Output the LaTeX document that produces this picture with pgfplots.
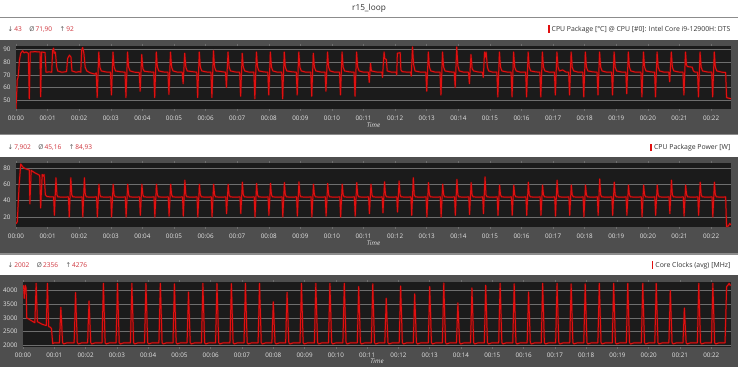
\documentclass[border=0pt]{standalone}
\usepackage{pgfplots}
\pgfplotsset{compat=1.18}
\usepackage{pgfplotstable}
\usepackage{fontspec}
\setmainfont{Open Sans}
\newfontfamily\symf{DejaVu Sans}
\definecolor{band}{HTML}{4E4E4E}
\definecolor{plotbg}{HTML}{1B1B1B}
\definecolor{gridc}{HTML}{6E6E6E}
\definecolor{linec}{HTML}{E01010}
\definecolor{glowc}{HTML}{A00000}
\definecolor{ticktxt}{HTML}{E4E4E4}
\definecolor{stat}{HTML}{D0343C}
\definecolor{hdrtxt}{HTML}{333333}
\definecolor{symc}{HTML}{555555}
\definecolor{sepc}{HTML}{8C8C8C}

\pgfplotstableread[row sep=\\]{t v\\
0.00 43\\ 0.04 66\\ 0.07 68.5\\ 0.11 81.6\\ 0.15 87\\ 0.21 89\\ 0.25 87.4\\ 0.32 88\\ 0.39 87\\ 0.42 51\\ 0.45 88\\ 0.60 88.3\\ 0.76 88\\ 0.78 52.6\\ 0.81 88\\ 0.92 87.6\\ 0.95 72\\ 1.05 72.3\\ 1.13 72\\ 1.16 89.5\\ 1.19 91\\ 1.21 87\\ 1.245 88\\ 1.29 76\\ 1.32 73\\ 1.45 72\\ 1.60 72.5\\ 1.635 83\\ 1.69 85.5\\ 1.74 84\\ 1.77 73\\ 1.90 72\\ 2.00 72.5\\ 2.05 72\\ 2.08 89.5\\ 2.11 91.5\\ 2.15 87\\ 2.19 76\\ 2.24 73\\ 2.35 71.5\\ 2.50 70.5\\
2.54 71.5\\ 2.57 52\\ 2.62 88\\ 2.655 76\\ 2.70 73\\ 2.85 72.2\\
2.99 72\\ 3.02 54\\ 3.07 88\\ 3.105 76\\ 3.15 73\\ 3.30 72.4\\
3.45 72\\ 3.48 52\\ 3.53 88\\ 3.565 76\\ 3.61 73\\ 3.76 72\\
3.90 71.8\\ 3.93 57\\ 3.98 86\\ 4.015 75\\ 4.06 72.8\\ 4.21 72.3\\
4.36 72\\ 4.39 52\\ 4.44 88\\ 4.475 76\\ 4.52 73\\ 4.67 72.2\\
4.81 72\\ 4.84 54.5\\ 4.89 88\\ 4.925 76\\ 4.97 73\\ 5.12 72\\
5.26 72\\ 5.29 63\\ 5.34 87\\ 5.375 76\\ 5.42 73\\ 5.57 72.5\\
5.72 72\\ 5.75 52\\ 5.80 88\\ 5.835 76\\ 5.88 73\\ 6.03 72.2\\
6.17 72\\ 6.20 52\\ 6.25 89\\ 6.285 76\\ 6.33 73\\ 6.48 72.6\\
6.63 72\\ 6.66 60\\ 6.71 88\\ 6.745 76\\ 6.79 73\\ 6.94 72.2\\
7.08 72\\ 7.11 53\\ 7.16 87\\ 7.195 76\\ 7.24 73\\ 7.39 72\\
7.53 72\\ 7.56 51\\ 7.61 88\\ 7.645 76\\ 7.69 73\\ 7.84 72.3\\
7.97 72\\ 8.00 54\\ 8.05 88\\ 8.085 76\\ 8.13 73\\ 8.28 72\\
8.41 72\\ 8.44 51\\ 8.49 88\\ 8.525 76\\ 8.57 73\\ 8.72 72.4\\
8.87 72\\ 8.90 54\\ 8.95 88\\ 8.985 76\\ 9.03 73\\ 9.18 72\\
9.33 72\\ 9.36 53\\ 9.41 87\\ 9.445 76\\ 9.49 73\\ 9.64 72.2\\
9.78 72\\ 9.81 57\\ 9.86 88\\ 9.895 76\\ 9.94 73\\ 10.09 72\\
10.24 72\\ 10.27 54\\ 10.32 88\\ 10.355 76\\ 10.40 73\\ 10.55 72.3\\
10.70 72\\ 10.73 53\\ 10.78 88\\ 10.815 76\\ 10.86 73\\ 11.01 72\\
11.15 72\\ 11.18 64\\ 11.22 79\\ 11.25 73\\ 11.40 72.2\\
11.58 72\\ 11.60 68\\ 11.63 80\\ 11.65 88\\ 11.67 83\\ 11.72 82\\ 11.75 73\\ 11.90 72\\
12.03 72\\ 12.05 70\\ 12.07 87\\ 12.16 87.5\\ 12.18 74\\ 12.22 72.5\\ 12.40 72\\
12.49 72\\ 12.51 69\\ 12.55 92\\ 12.585 78\\ 12.63 73\\ 12.78 72.2\\
12.97 72\\ 13.00 57\\ 13.05 88\\ 13.085 76\\ 13.13 73\\ 13.28 72\\
13.42 72\\ 13.45 54\\ 13.50 88\\ 13.535 76\\ 13.58 73\\ 13.73 72.3\\
13.87 72\\ 13.90 60\\ 13.95 92\\ 13.985 77\\ 14.03 73\\ 14.18 72\\
14.32 72\\ 14.35 63\\ 14.40 86\\ 14.435 75\\ 14.48 73\\ 14.63 72.2\\
14.76 72\\ 14.79 68\\ 14.83 88\\ 14.86 84\\ 14.88 88\\ 14.92 76\\ 14.96 73\\ 15.10 72\\
15.22 72\\ 15.25 52.5\\ 15.30 88\\ 15.335 76\\ 15.38 73\\ 15.53 72.2\\
15.67 72\\ 15.70 52.5\\ 15.75 88\\ 15.785 76\\ 15.83 73\\ 15.98 72\\
16.13 72\\ 16.16 52.5\\ 16.21 88\\ 16.245 76\\ 16.29 73\\ 16.44 72.3\\
16.58 72\\ 16.61 52.5\\ 16.66 88\\ 16.695 76\\ 16.74 73\\ 16.89 72\\
17.04 72\\ 17.07 54\\ 17.12 88\\ 17.155 76\\ 17.20 73\\ 17.30 73.8\\ 17.40 72.2\\
17.49 72\\ 17.52 54\\ 17.57 88\\ 17.605 76\\ 17.65 73\\ 17.80 72\\
17.94 72\\ 17.97 52.5\\ 18.02 88\\ 18.055 76\\ 18.10 73\\ 18.25 72.3\\
18.39 72\\ 18.42 54\\ 18.47 88\\ 18.505 76\\ 18.55 73\\ 18.70 72\\
18.85 72\\ 18.88 54\\ 18.93 88\\ 18.965 76\\ 19.01 73\\ 19.16 72.2\\
19.30 72\\ 19.33 55\\ 19.38 88\\ 19.415 76\\ 19.46 73\\ 19.61 72\\
19.78 72\\ 19.81 52.5\\ 19.86 88\\ 19.895 76\\ 19.94 73\\ 20.09 72.3\\
20.21 72\\ 20.24 52.5\\ 20.29 88\\ 20.325 76\\ 20.37 73\\ 20.52 72\\
20.66 72\\ 20.69 64.5\\ 20.74 88\\ 20.775 76\\ 20.82 73\\ 20.97 72.2\\
21.11 72\\ 21.14 54\\ 21.19 88\\ 21.22 78\\ 21.25 76.5\\ 21.40 76\\ 21.44 73\\ 21.50 72\\
21.57 72\\ 21.60 52.5\\ 21.65 88\\ 21.685 76\\ 21.73 73\\ 21.88 72.2\\
22.02 72\\ 22.05 52.5\\ 22.10 88\\ 22.135 76\\ 22.18 73\\ 22.35 72\\
22.46 71.8\\ 22.49 52\\ 22.55 51.5\\ 22.63 51\\
}\temptab

\pgfplotstableread[row sep=\\]{t v\\
0.00 11.5\\ 0.04 14\\ 0.10 60\\ 0.15 84.9\\ 0.22 81\\ 0.30 79\\ 0.42 77.5\\ 0.44 36\\ 0.48 77\\ 0.60 74\\ 0.75 71\\ 0.78 31\\ 0.83 72\\ 0.86 70\\ 0.89 72\\ 0.93 47\\ 0.98 45\\ 1.10 44.5\\
1.19 44.5\\ 1.215 22\\ 1.265 68\\ 1.295 47\\ 1.33 44.5\\ 1.50 44.2\\
1.66 44.5\\ 1.685 20\\ 1.735 68\\ 1.765 47\\ 1.80 44.5\\ 2.00 44.2\\
2.09 44.5\\ 2.115 20\\ 2.165 68\\ 2.195 47\\ 2.23 44.5\\ 2.40 44.2\\
2.55 44.5\\ 2.575 20\\ 2.625 60\\ 2.655 47\\ 2.69 44.5\\ 2.87 44.2\\
3.00 44.5\\ 3.025 20\\ 3.075 60\\ 3.105 47\\ 3.14 44.5\\ 3.32 44.2\\
3.46 44.5\\ 3.485 20\\ 3.535 60\\ 3.565 47\\ 3.60 44.5\\ 3.78 44.2\\
3.91 44.5\\ 3.935 22\\ 3.985 60\\ 4.015 47\\ 4.05 44.5\\ 4.23 44.2\\
4.37 44.5\\ 4.395 20\\ 4.445 60\\ 4.475 47\\ 4.51 44.5\\ 4.69 44.2\\
4.82 44.5\\ 4.845 21\\ 4.895 60\\ 4.925 47\\ 4.96 44.5\\ 5.14 44.2\\
5.27 44.5\\ 5.295 21\\ 5.345 65\\ 5.375 47\\ 5.41 44.5\\ 5.59 44.2\\
5.73 44.5\\ 5.755 20\\ 5.805 60\\ 5.835 47\\ 5.87 44.5\\ 6.05 44.2\\
6.18 44.5\\ 6.205 20\\ 6.255 60\\ 6.285 47\\ 6.32 44.5\\ 6.50 44.2\\
6.64 44.5\\ 6.665 24\\ 6.715 60\\ 6.745 47\\ 6.78 44.5\\ 6.96 44.2\\
7.09 44.5\\ 7.115 24\\ 7.165 62.5\\ 7.195 47\\ 7.23 44.5\\ 7.41 44.2\\
7.54 44.5\\ 7.565 20\\ 7.615 61\\ 7.645 47\\ 7.68 44.5\\ 7.86 44.2\\
7.98 44.5\\ 8.005 22\\ 8.055 61\\ 8.085 47\\ 8.12 44.5\\ 8.30 44.2\\
8.42 44.5\\ 8.445 20\\ 8.495 62\\ 8.525 47\\ 8.56 44.5\\ 8.74 44.2\\
8.88 44.5\\ 8.905 21\\ 8.955 63\\ 8.985 47\\ 9.02 44.5\\ 9.20 44.2\\
9.34 44.5\\ 9.365 20\\ 9.415 60\\ 9.445 47\\ 9.48 44.5\\ 9.66 44.2\\
9.79 44.5\\ 9.815 21\\ 9.865 61\\ 9.895 47\\ 9.93 44.5\\ 10.11 44.2\\
10.25 44.5\\ 10.275 20\\ 10.325 60\\ 10.355 47\\ 10.39 44.5\\ 10.57 44.2\\
10.71 44.5\\ 10.735 21\\ 10.785 62\\ 10.815 47\\ 10.85 44.5\\ 11.03 44.2\\
11.16 44.5\\ 11.185 24\\ 11.235 60\\ 11.265 47\\ 11.30 44.5\\ 11.48 44.2\\
11.59 44.5\\ 11.615 25\\ 11.665 63\\ 11.695 47\\ 11.73 44.5\\ 11.91 44.2\\
12.05 44.5\\ 12.075 26\\ 12.125 64\\ 12.155 47\\ 12.19 44.5\\ 12.37 44.2\\
12.50 44.5\\ 12.525 22\\ 12.575 68\\ 12.605 47\\ 12.64 44.5\\ 12.82 44.2\\
12.98 44.5\\ 13.005 20\\ 13.055 62\\ 13.085 47\\ 13.12 44.5\\ 13.30 44.2\\
13.43 44.5\\ 13.455 20\\ 13.505 60\\ 13.535 47\\ 13.57 44.5\\ 13.75 44.2\\
13.88 44.5\\ 13.905 22\\ 13.955 66\\ 13.985 47\\ 14.02 44.5\\ 14.20 44.2\\
14.33 44.5\\ 14.355 23\\ 14.405 62\\ 14.435 47\\ 14.47 44.5\\ 14.65 44.2\\
14.77 44.5\\ 14.795 24\\ 14.845 69\\ 14.875 47\\ 14.91 44.5\\ 15.09 44.2\\
15.23 44.5\\ 15.255 22\\ 15.305 59\\ 15.335 47\\ 15.37 44.5\\ 15.55 44.2\\
15.68 44.5\\ 15.705 22\\ 15.755 59\\ 15.785 47\\ 15.82 44.5\\ 16.00 44.2\\
16.14 44.5\\ 16.165 22\\ 16.215 62.5\\ 16.245 47\\ 16.28 44.5\\ 16.46 44.2\\
16.59 44.5\\ 16.615 22\\ 16.665 59\\ 16.695 47\\ 16.73 44.5\\ 16.91 44.2\\
17.05 44.5\\ 17.075 21\\ 17.125 65\\ 17.155 47\\ 17.19 44.5\\ 17.37 44.2\\
17.50 44.5\\ 17.525 22\\ 17.575 59\\ 17.605 47\\ 17.64 44.5\\ 17.82 44.2\\
17.95 44.5\\ 17.975 20\\ 18.025 59\\ 18.055 47\\ 18.09 44.5\\ 18.27 44.2\\
18.40 44.5\\ 18.425 22\\ 18.475 66.5\\ 18.505 47\\ 18.54 44.5\\ 18.72 44.2\\
18.86 44.5\\ 18.885 22\\ 18.935 62.5\\ 18.965 47\\ 19.00 44.5\\ 19.18 44.2\\
19.31 44.5\\ 19.335 22\\ 19.385 59\\ 19.415 47\\ 19.45 44.5\\ 19.63 44.2\\
19.79 44.5\\ 19.815 20\\ 19.865 59\\ 19.895 47\\ 19.93 44.5\\ 20.11 44.2\\
20.22 44.5\\ 20.245 22\\ 20.295 59\\ 20.325 47\\ 20.36 44.5\\ 20.54 44.2\\
20.67 44.5\\ 20.695 24\\ 20.745 65\\ 20.775 47\\ 20.81 44.5\\ 20.99 44.2\\
21.12 44.5\\ 21.145 21\\ 21.195 59\\ 21.225 47\\ 21.26 44.5\\ 21.44 44.2\\
21.58 44.5\\ 21.605 22\\ 21.655 62.5\\ 21.685 47\\ 21.72 44.5\\ 21.90 44.2\\
22.03 44.5\\ 22.055 20\\ 22.105 62.5\\ 22.135 47\\ 22.17 44.5\\ 22.35 44.2\\
22.46 44.5\\ 22.49 8\\ 22.55 9\\ 22.59 12\\ 22.63 10\\
}\powtab

\pgfplotstableread[row sep=\\]{t v\\
0.00 4200\\ 0.02 4150\\ 0.04 3720\\ 0.07 4200\\ 0.10 4100\\ 0.12 3000\\ 0.15 2980\\ 0.26 2900\\ 0.38 2820\\ 0.42 4270\\ 0.46 2860\\ 0.60 2770\\ 0.70 2730\\ 0.745 2720\\ 0.78 4270\\ 0.82 2680\\ 0.88 2650\\ 0.91 2600\\ 0.95 2050\\ 1.00 2080\\
1.165 2080\\ 1.21 3390\\ 1.265 2085\\ 1.30 2040\\ 1.41 2080\\
1.635 2080\\ 1.68 3930\\ 1.735 2085\\ 1.77 2040\\ 1.88 2080\\
2.065 2080\\ 2.11 3620\\ 2.165 2085\\ 2.20 2040\\ 2.31 2080\\
2.525 2080\\ 2.57 4270\\ 2.625 2085\\ 2.66 2040\\ 2.77 2080\\
2.975 2080\\ 3.02 4270\\ 3.075 2085\\ 3.11 2040\\ 3.22 2080\\
3.435 2080\\ 3.48 4270\\ 3.535 2085\\ 3.57 2040\\ 3.68 2080\\
3.885 2080\\ 3.93 4270\\ 3.985 2085\\ 4.02 2040\\ 4.13 2080\\
4.345 2080\\ 4.39 4270\\ 4.445 2085\\ 4.48 2040\\ 4.59 2080\\
4.795 2080\\ 4.84 4250\\ 4.895 2085\\ 4.93 2040\\ 5.04 2080\\
5.245 2080\\ 5.29 3950\\ 5.345 2085\\ 5.38 2040\\ 5.49 2080\\
5.705 2080\\ 5.75 4270\\ 5.805 2085\\ 5.84 2040\\ 5.95 2080\\
6.155 2080\\ 6.20 4270\\ 6.255 2085\\ 6.29 2040\\ 6.40 2080\\
6.615 2080\\ 6.66 4260\\ 6.715 2085\\ 6.75 2040\\ 6.86 2080\\
7.065 2080\\ 7.11 4270\\ 7.165 2085\\ 7.20 2040\\ 7.31 2080\\
7.515 2080\\ 7.56 4270\\ 7.615 2085\\ 7.65 2040\\ 7.76 2080\\
7.955 2080\\ 8.00 3590\\ 8.055 2085\\ 8.09 2040\\ 8.20 2080\\
8.395 2080\\ 8.44 3940\\ 8.495 2085\\ 8.53 2040\\ 8.64 2080\\
8.855 2080\\ 8.90 4270\\ 8.955 2085\\ 8.99 2040\\ 9.10 2080\\
9.315 2080\\ 9.36 4270\\ 9.415 2085\\ 9.45 2040\\ 9.56 2080\\
9.765 2080\\ 9.81 4270\\ 9.865 2085\\ 9.90 2040\\ 10.01 2080\\
10.225 2080\\ 10.27 4270\\ 10.325 2085\\ 10.36 2040\\ 10.47 2080\\
10.685 2080\\ 10.73 4150\\ 10.785 2085\\ 10.82 2040\\ 10.93 2080\\
11.135 2080\\ 11.18 4250\\ 11.235 2085\\ 11.27 2040\\ 11.38 2080\\
11.565 2080\\ 11.61 3720\\ 11.665 2085\\ 11.70 2040\\ 11.81 2080\\
12.025 2080\\ 12.07 4170\\ 12.125 2085\\ 12.16 2040\\ 12.27 2080\\
12.475 2080\\ 12.52 3880\\ 12.575 2085\\ 12.61 2040\\ 12.72 2080\\
12.955 2080\\ 13.00 4150\\ 13.055 2085\\ 13.09 2040\\ 13.20 2080\\
13.405 2080\\ 13.45 4276\\ 13.505 2085\\ 13.54 2040\\ 13.65 2080\\
13.855 2080\\ 13.90 3550\\ 13.955 2085\\ 13.99 2040\\ 14.10 2080\\
14.305 2080\\ 14.35 4100\\ 14.405 2085\\ 14.44 2040\\ 14.55 2080\\
14.745 2080\\ 14.79 4200\\ 14.845 2085\\ 14.88 2040\\ 14.99 2080\\
15.205 2080\\ 15.25 4270\\ 15.305 2085\\ 15.34 2040\\ 15.45 2080\\
15.655 2080\\ 15.70 4250\\ 15.755 2085\\ 15.79 2040\\ 15.90 2080\\
16.115 2080\\ 16.16 3950\\ 16.215 2085\\ 16.25 2040\\ 16.36 2080\\
16.565 2080\\ 16.61 4270\\ 16.665 2085\\ 16.70 2040\\ 16.81 2080\\
17.025 2080\\ 17.07 4270\\ 17.125 2085\\ 17.16 2040\\ 17.27 2080\\
17.475 2080\\ 17.52 4250\\ 17.575 2085\\ 17.61 2040\\ 17.72 2080\\
17.925 2080\\ 17.97 4250\\ 18.025 2085\\ 18.06 2040\\ 18.17 2080\\
18.375 2080\\ 18.42 4270\\ 18.475 2085\\ 18.51 2040\\ 18.62 2080\\
18.835 2080\\ 18.88 4270\\ 18.935 2085\\ 18.97 2040\\ 19.08 2080\\
19.285 2080\\ 19.33 4270\\ 19.385 2085\\ 19.42 2040\\ 19.53 2080\\
19.765 2080\\ 19.81 4270\\ 19.865 2085\\ 19.90 2040\\ 20.01 2080\\
20.195 2080\\ 20.24 4270\\ 20.295 2085\\ 20.33 2040\\ 20.44 2080\\
20.645 2080\\ 20.69 4000\\ 20.745 2085\\ 20.78 2040\\ 20.89 2080\\
21.095 2080\\ 21.14 3360\\ 21.195 2085\\ 21.23 2040\\ 21.34 2080\\
21.555 2080\\ 21.60 4270\\ 21.655 2085\\ 21.69 2040\\ 21.80 2080\\
22.005 2080\\ 22.05 4270\\ 22.105 2085\\ 22.14 2040\\ 22.25 2080\\
22.44 2080\\ 22.49 4150\\ 22.53 4200\\ 22.57 4270\\ 22.60 4200\\ 22.63 4210\\
}\clktab

\pgfplotsset{
  hwbase/.style={
    scale only axis,
    xmin=0, xmax=22.63,
    xtick={0,1,...,22},
    xticklabels={00:00,00:01,00:02,00:03,00:04,00:05,00:06,00:07,00:08,00:09,00:10,00:11,00:12,00:13,00:14,00:15,00:16,00:17,00:18,00:19,00:20,00:21,00:22},
    axis background/.style={fill=plotbg},
    axis line style={draw=none},
    tick align=outside,
    major tick length=2bp,
    xtick style={draw=gridc, line width=0.5bp},
    ytick style={draw=none},
    ymajorgrids,
    major grid style={draw=gridc, line width=0.5bp},
    ticklabel style={font=\fontsize{6.3}{7.5}\selectfont, text=ticktxt},
    /pgf/number format/assume math mode=true,
    /pgf/number format/1000 sep={},
    xlabel={Time},
    xlabel style={font=\itshape\fontsize{6.3}{7.5}\selectfont, text=ticktxt, at={(axis description cs:0.5,0)}, anchor=center},
  },
  glow/.style={glowc, line width=2.2bp, opacity=0.35, line join=round},
  main/.style={linec, line width=1bp, line join=round},
}

\newcommand{\stats}[3]{\textcolor{symc}{\symf ↓}\,\textcolor{stat}{#1}\hspace{7.5bp}\textcolor{symc}{Ø}\,\textcolor{stat}{#2}\hspace{7.5bp}\textcolor{symc}{\symf ↑}\,\textcolor{stat}{#3}}

\begin{document}
\begin{tikzpicture}
\useasboundingbox (0,0) rectangle (738bp,-367bp);
\fill[white] (0,0) rectangle (738bp,-367bp);
\node[font=\fontsize{8.3}{10}\selectfont, text=hdrtxt] at (369bp,-8bp) {r15\_loop};
\fill[sepc] (0,-16.5bp) rectangle (738bp,-18bp);
% bands
\fill[band] (0,-40bp) rectangle (738bp,-133.5bp);
\fill[sepc] (0,-133.5bp) rectangle (738bp,-135bp);
\fill[band] (0,-157bp) rectangle (738bp,-253bp);
\fill[sepc] (0,-253bp) rectangle (738bp,-254.5bp);
\fill[band] (0,-275bp) rectangle (738bp,-367bp);
% headers
\begin{scope}[every node/.style={inner sep=0pt, font=\fontsize{6.6}{8}\selectfont}]
\node[anchor=west] at (7.5bp,-29.3bp) {\stats{43}{71,90}{92}};
\node[anchor=east, text=hdrtxt, font=\fontsize{6.9}{8}\selectfont] at (730.5bp,-29.3bp) {\textcolor{linec}{\rule[-1.3bp]{1.9bp}{7.5bp}}\hspace{2bp}CPU Package [°C] @ CPU [\#0]: Intel Core i9-12900H: DTS};
\node[anchor=west] at (7.5bp,-147.5bp) {\stats{7,902}{45,16}{84,93}};
\node[anchor=east, text=hdrtxt, font=\fontsize{6.9}{8}\selectfont] at (730.5bp,-147.5bp) {\textcolor{linec}{\rule[-1.3bp]{1.9bp}{7.5bp}}\hspace{2bp}CPU Package Power [W]};
\node[anchor=west] at (7.5bp,-265bp) {\stats{2002}{2356}{4276}};
\node[anchor=east, text=hdrtxt, font=\fontsize{6.9}{8}\selectfont] at (730.5bp,-265bp) {\textcolor{linec}{\rule[-1.3bp]{1.9bp}{7.5bp}}\hspace{2bp}Core Clocks (avg) [MHz]};
\end{scope}

\begin{axis}[hwbase, at={(16bp,-109bp)}, anchor=south west,
  width=715bp, height=63.3bp, ymin=42.9, ymax=93,
  ytick={50,60,70,80,90},
  xticklabel style={yshift=-1.5bp},
  xlabel style={yshift=-16bp}]
\addplot[glow] table[x=t,y=v]{\temptab};
\addplot[main] table[x=t,y=v]{\temptab};
\end{axis}

\begin{axis}[hwbase, at={(16bp,-227bp)}, anchor=south west,
  width=715bp, height=64bp, ymin=7.6, ymax=86.1,
  ytick={20,40,60,80},
  xticklabel style={yshift=-1bp},
  xlabel style={yshift=-16bp}]
\addplot[glow] table[x=t,y=v]{\powtab};
\addplot[main] table[x=t,y=v]{\powtab};
\end{axis}

\begin{axis}[hwbase, at={(23bp,-347bp)}, anchor=south west,
  width=708bp, height=65bp, ymin=1926, ymax=4320,
  ytick={2000,2500,3000,3500,4000},
  xticklabel style={yshift=0bp},
  xlabel style={yshift=-14bp}]
\addplot[glow] table[x=t,y=v]{\clktab};
\addplot[main] table[x=t,y=v]{\clktab};
\end{axis}
\end{tikzpicture}
\end{document}
